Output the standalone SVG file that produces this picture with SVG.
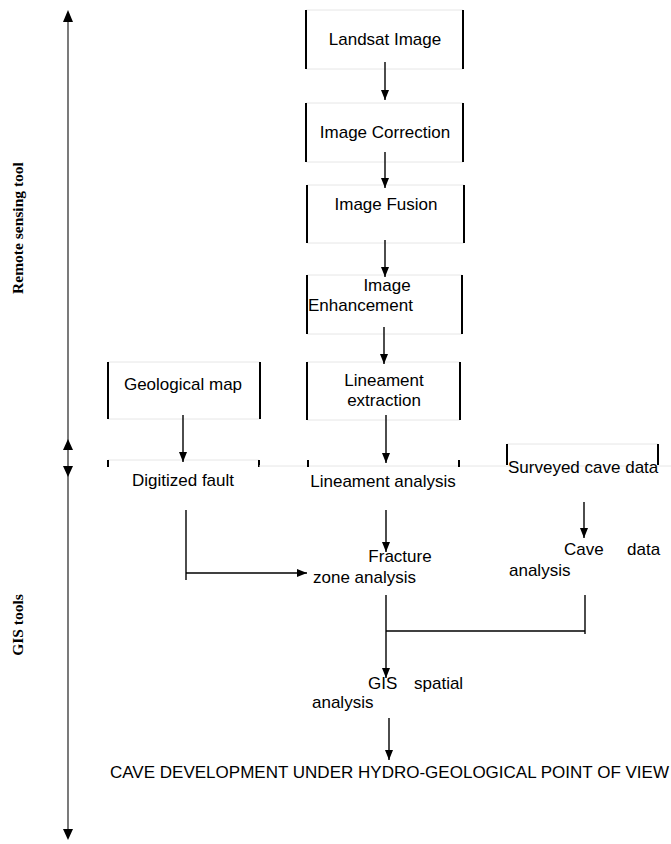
<svg xmlns="http://www.w3.org/2000/svg" width="671" height="844" viewBox="0 0 671 844">
<style>
.t{font-family:"Liberation Sans",Arial,sans-serif;font-size:17px;fill:#000}
.m{text-anchor:middle}
.ax{font-family:"Liberation Serif","Times New Roman",serif;font-size:15.5px;font-weight:bold;fill:#000;text-anchor:middle}
.side{stroke:#000;stroke-width:2;fill:none}
.edge{stroke:#e6e6e6;stroke-width:1;fill:none}
.c{stroke:#000;stroke-width:1.4;fill:none}
.ah{fill:#000}
</style>
<defs>
<marker id="arr" markerUnits="userSpaceOnUse" markerWidth="10" markerHeight="10" refX="10" refY="4" orient="auto">
<path d="M0,0 L10,4 L0,8 Z" fill="#000"/>
</marker>
</defs>
<rect width="671" height="844" fill="#fff"/>

<g id="axis">
<line x1="68" y1="18" x2="68" y2="832" stroke="#333" stroke-width="1.3"/>
<path class="ah" d="M68,10 L73,22 L63,22 Z"/>
<path class="ah" d="M68,439 L73,450 L63,450 Z"/>
<path class="ah" d="M68,477 L73,466 L63,466 Z"/>
<path class="ah" d="M68,840 L73,829 L63,829 Z"/>
<text class="ax" transform="translate(23,228) rotate(-90)">Remote sensing tool</text>
<text class="ax" transform="translate(23,625) rotate(-90)">GIS tools</text>
</g>

<g id="landsat">
<line class="edge" x1="306" y1="10" x2="463" y2="10"/><line class="edge" x1="306" y1="69" x2="463" y2="69"/>
<line class="side" x1="306" y1="10" x2="306" y2="69"/><line class="side" x1="463" y1="10" x2="463" y2="69"/>
<text class="t m" x="385" y="45">Landsat Image</text>
</g>
<g id="correction">
<line class="edge" x1="306" y1="103" x2="463" y2="103"/><line class="edge" x1="306" y1="162" x2="463" y2="162"/>
<line class="side" x1="306" y1="103" x2="306" y2="162"/><line class="side" x1="463" y1="103" x2="463" y2="162"/>
<text class="t m" x="385" y="138">Image Correction</text>
</g>
<g id="fusion">
<line class="edge" x1="307" y1="185" x2="464" y2="185"/><line class="edge" x1="307" y1="243" x2="464" y2="243"/>
<line class="side" x1="307" y1="185" x2="307" y2="243"/><line class="side" x1="464" y1="185" x2="464" y2="243"/>
<text class="t m" x="386" y="210">Image Fusion</text>
</g>
<g id="enhancement">
<line class="edge" x1="307" y1="275" x2="462" y2="275"/><line class="edge" x1="307" y1="334" x2="462" y2="334"/>
<line class="side" x1="307" y1="275" x2="307" y2="334"/><line class="side" x1="462" y1="275" x2="462" y2="334"/>
<text class="t m" x="387" y="291">Image</text>
<text class="t" x="308" y="311">Enhancement</text>
</g>
<g id="extraction">
<line class="edge" x1="307" y1="362" x2="460" y2="362"/><line class="edge" x1="307" y1="420" x2="460" y2="420"/>
<line class="side" x1="307" y1="362" x2="307" y2="420"/><line class="side" x1="460" y1="362" x2="460" y2="420"/>
<text class="t m" x="384" y="386">Lineament</text>
<text class="t m" x="384" y="406">extraction</text>
</g>
<g id="geomap">
<line class="edge" x1="108" y1="362" x2="260" y2="362"/><line class="edge" x1="108" y1="419" x2="260" y2="419"/>
<line class="side" x1="108" y1="362" x2="108" y2="419"/><line class="side" x1="260" y1="362" x2="260" y2="419"/>
<text class="t m" x="183" y="390">Geological map</text>
</g>
<g id="digitized">
<line class="edge" x1="108" y1="460" x2="259" y2="460"/>
<line class="side" x1="108" y1="460" x2="108" y2="467"/><line class="side" x1="259" y1="460" x2="259" y2="467"/>
<text class="t m" x="183" y="486">Digitized fault</text>
</g>
<g id="lineament-analysis">
<line class="edge" x1="259" y1="466" x2="671" y2="466"/>
<line class="side" x1="308" y1="460" x2="308" y2="467"/><line class="side" x1="459" y1="460" x2="459" y2="467"/>
<text class="t m" x="383" y="487">Lineament analysis</text>
</g>
<g id="surveyed">
<line class="edge" x1="507" y1="444" x2="658" y2="444"/>
<line class="side" x1="507" y1="444" x2="507" y2="465"/><line class="side" x1="658" y1="444" x2="658" y2="465"/>
<text class="t" x="508" y="473">Surveyed cave data</text>
</g>
<g id="fracture">
<text class="t m" x="400" y="562">Fracture</text>
<text class="t" x="313" y="583">zone analysis</text>
</g>
<g id="cave-data">
<text class="t" x="564" y="555">Cave</text>
<text class="t" x="627" y="555">data</text>
<text class="t" x="509" y="576">analysis</text>
</g>
<g id="gis">
<text class="t" x="368" y="689">GIS</text>
<text class="t" x="414" y="689">spatial</text>
<text class="t" x="312" y="708">analysis</text>
</g>
<g id="result">
<text class="t" x="110" y="778" textLength="559" lengthAdjust="spacingAndGlyphs">CAVE DEVELOPMENT UNDER HYDRO-GEOLOGICAL POINT OF VIEW</text>
</g>

<g id="connectors">
<line class="c" x1="385" y1="62" x2="385" y2="100" marker-end="url(#arr)"/>
<line class="c" x1="385" y1="152" x2="385" y2="188" marker-end="url(#arr)"/>
<line class="c" x1="385" y1="240" x2="385" y2="277" marker-end="url(#arr)"/>
<line class="c" x1="384" y1="327" x2="384" y2="364" marker-end="url(#arr)"/>
<line class="c" x1="386" y1="415" x2="386" y2="463" marker-end="url(#arr)"/>
<line class="c" x1="183" y1="415" x2="183" y2="462" marker-end="url(#arr)"/>
<line class="c" x1="386" y1="510" x2="386" y2="552" marker-end="url(#arr)"/>
<line class="c" x1="584" y1="502" x2="584" y2="538" marker-end="url(#arr)"/>
<line class="c" x1="186" y1="510" x2="186" y2="580"/>
<line class="c" x1="186" y1="573" x2="307" y2="573" marker-end="url(#arr)"/>
<line class="c" x1="386" y1="595" x2="386" y2="678" marker-end="url(#arr)"/>
<line class="c" x1="386" y1="631" x2="585" y2="631"/>
<line class="c" x1="585" y1="595" x2="585" y2="634"/>
<line class="c" x1="389" y1="718" x2="389" y2="760" marker-end="url(#arr)"/>
</g>
</svg>
